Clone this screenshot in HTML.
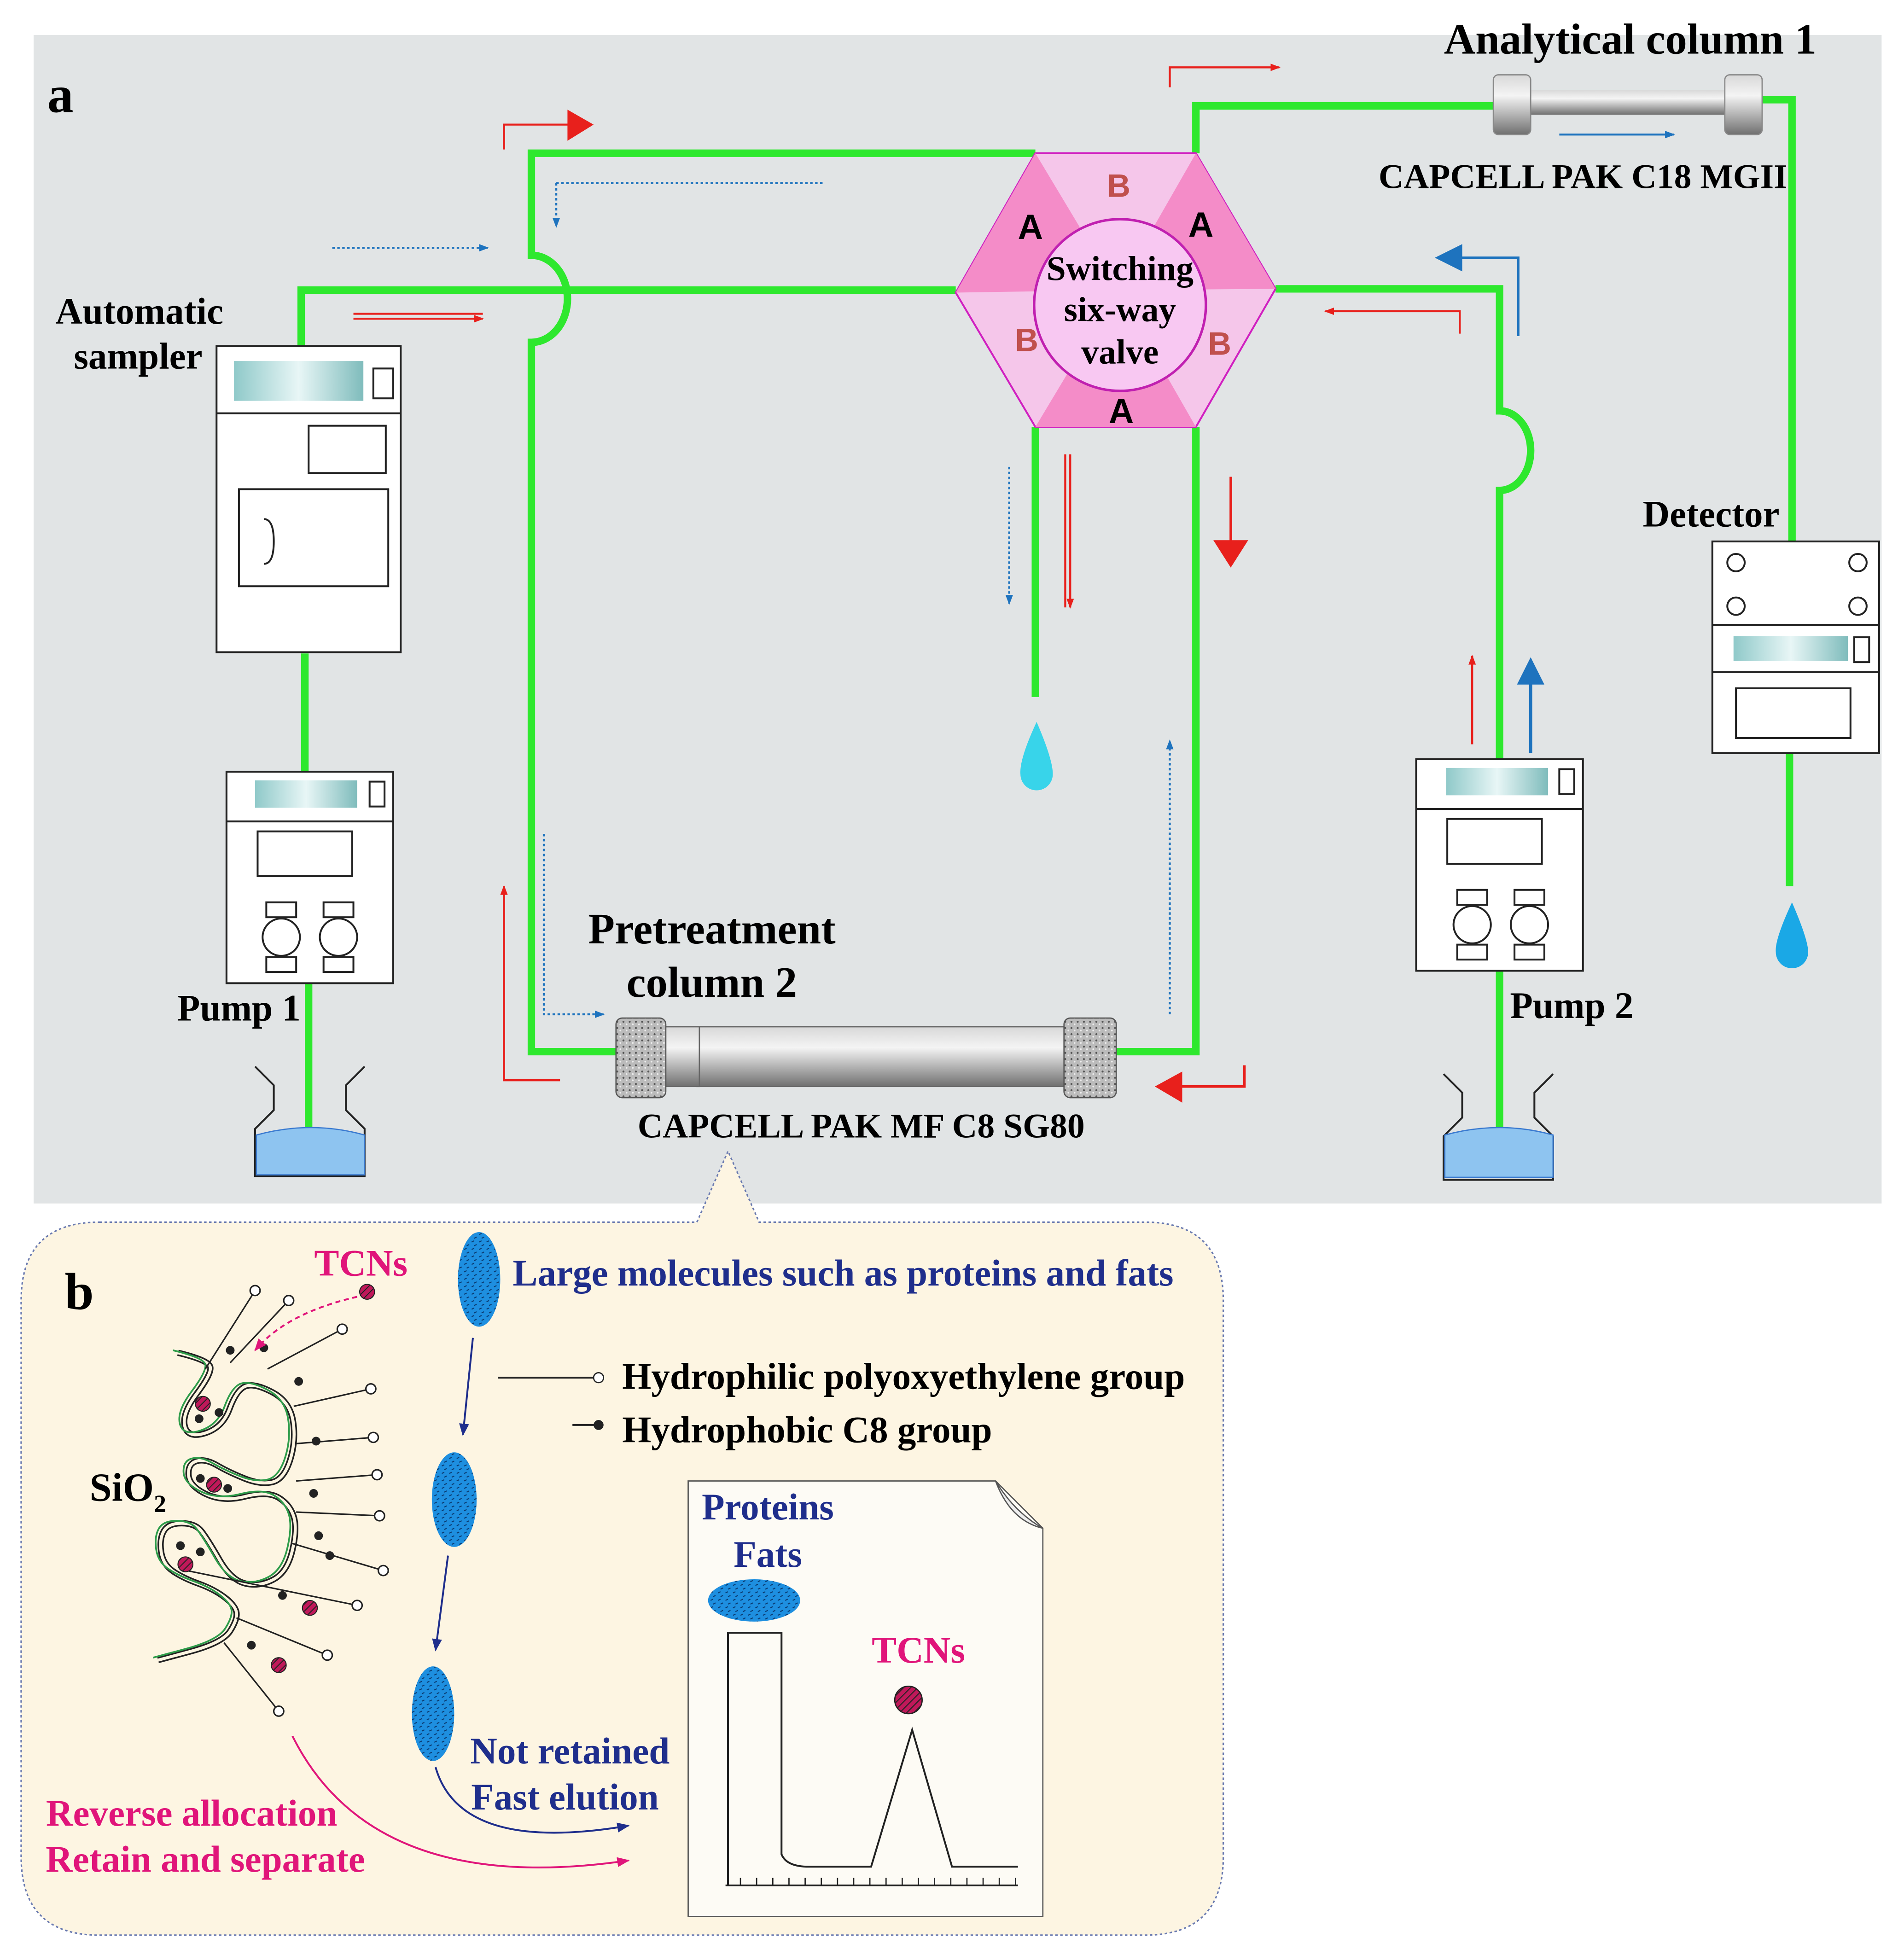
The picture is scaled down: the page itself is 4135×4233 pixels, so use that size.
<!DOCTYPE html>
<html><head><meta charset="utf-8"><style>
html,body{margin:0;padding:0;background:#fff}
svg{display:block}
text{font-family:"Liberation Serif",serif;font-weight:bold}
.s{font-family:"Liberation Sans",sans-serif}
</style></head><body>
<svg width="4135" height="4233" viewBox="0 0 1530 1566" xmlns="http://www.w3.org/2000/svg">
<defs>
<linearGradient id="col" x1="0" y1="0" x2="0" y2="1"><stop offset="0" stop-color="#d8d8d8"/><stop offset=".35" stop-color="#f4f4f4"/><stop offset="1" stop-color="#707070"/></linearGradient>
<linearGradient id="scr" x1="0" y1="0" x2="1" y2="0"><stop offset="0" stop-color="#8fc9c9"/><stop offset=".5" stop-color="#e8f6f6"/><stop offset="1" stop-color="#7fbcbc"/></linearGradient>
<pattern id="hat" width="4" height="4" patternUnits="userSpaceOnUse" patternTransform="rotate(45)"><rect width="4" height="4" fill="#c0185a"/><line x1="0" y1="0" x2="0" y2="4" stroke="#222" stroke-width="1.5"/></pattern>
<pattern id="dots" width="6" height="6" patternUnits="userSpaceOnUse"><rect width="6" height="6" fill="#1e8fe0"/><path d="M1 2l2-1M3 5l2-1" stroke="#0a3a70" stroke-width=".8"/></pattern>
<pattern id="speck" width="5" height="5" patternUnits="userSpaceOnUse"><rect width="5" height="5" fill="#bbb"/><circle cx="1" cy="1" r=".8" fill="#555"/><circle cx="3.5" cy="3" r=".7" fill="#eee"/></pattern>
<marker id="ar" markerWidth="8" markerHeight="8" refX="7" refY="4" orient="auto" markerUnits="userSpaceOnUse"><path d="M0 1L8 4L0 7z" fill="#e8201c"/></marker>
<marker id="ab" markerWidth="8" markerHeight="8" refX="7" refY="4" orient="auto" markerUnits="userSpaceOnUse"><path d="M0 1L8 4L0 7z" fill="#1e73be"/></marker>
<marker id="an" markerWidth="10" markerHeight="10" refX="9" refY="5" orient="auto" markerUnits="userSpaceOnUse"><path d="M0 1L10 5L0 9z" fill="#1f2e8c"/></marker>
<marker id="am" markerWidth="10" markerHeight="10" refX="9" refY="5" orient="auto" markerUnits="userSpaceOnUse"><path d="M0 1L10 5L0 9z" fill="#e0157a"/></marker>
<path id="sq" d="M143,1087 Q168,1093 169,1098.5 Q170,1104 158,1120 Q146,1136 148.5,1146 Q151,1156 165,1151.5 Q179,1147 184.5,1132 Q190,1117 197,1114 Q204,1111 218.5,1118.5 Q233,1126 235.5,1142 Q238,1158 233,1173.5 Q228,1189 218.5,1191 Q209,1193 196.5,1188 Q184,1183 174.5,1177.5 Q165,1172 158,1174 Q151,1176 151.5,1185 Q152,1194 165.5,1200.5 Q179,1207 197,1202.5 Q215,1198 224,1203.5 Q233,1209 236,1218.5 Q239,1228 235,1245.5 Q231,1263 220,1269 Q209,1275 197.5,1272.5 Q186,1270 176.5,1253.5 Q167,1237 162,1230.5 Q157,1224 146,1224 Q135,1224 131.5,1230.5 Q128,1237 129.5,1247 Q131,1257 139,1262.5 Q147,1268 159.5,1272.5 Q172,1277 180.5,1283.5 Q189,1290 190,1295.5 Q191,1301 185,1310.5 Q179,1320 153,1327 L127,1334"/>
</defs>
<rect x="27" y="28" width="1485" height="939" fill="#e1e4e5"/>
<path d="M80 982 H560 L585 925 L610 982 H920 Q983 982 983 1045 V1492 Q983 1555 920 1555 H80 Q17 1555 17 1492 V1045 Q17 982 80 982Z" fill="#fdf5e2" stroke="#6a7ab0" stroke-dasharray="2 2" stroke-width="1.2"/>
<g fill="none" stroke="#2ee82e" stroke-width="6">
<path d="M242 278V233H768"/>
<path d="M832 123H427V205A29 35 0 0 1 427 275V845H500"/>
<path d="M895 845H961V343"/>
<path d="M832 343V560"/>
<path d="M961 123V85H1205M1412 80H1440V435"/>
<path d="M1438 605V712"/>
<path d="M1025 232H1205V330A25 32 0 0 1 1205 394V610"/>
<path d="M1205 780V930"/>
<path d="M245 525V620M248 790V928"/>
</g>
<polygon points="768,235 832,123 961,123 1025,232 961,343 832,343" fill="#f5c6ea" stroke="#d020c0" stroke-width="1.5"/>
<polygon points="768,235 832,123 898,233" fill="#f48cc8"/>
<polygon points="961,123 1025,232 898,233" fill="#f48cc8"/>
<polygon points="961,343 832,343 898,233" fill="#f48cc8"/>
<circle cx="900" cy="245" r="69" fill="#f8c8f2" stroke="#c020b0" stroke-width="2"/>
<text x="900" y="225" font-size="28" text-anchor="middle">Switching</text>
<text x="900" y="258" font-size="28" text-anchor="middle">six-way</text>
<text x="900" y="292" font-size="28" text-anchor="middle">valve</text>
<g font-size="28" text-anchor="middle"><text class="s" x="828" y="192">A</text><text class="s" x="965" y="190">A</text><text class="s" x="901" y="340">A</text>
<text class="s" x="899" y="158" fill="#c0504d" font-size="26">B</text><text class="s" x="825" y="282" fill="#c0504d" font-size="26">B</text><text class="s" x="980" y="285" fill="#c0504d" font-size="26">B</text></g>
<rect x="1215" y="72" width="185" height="20" fill="url(#col)"/>
<rect x="1200" y="60" width="30" height="48" rx="4" fill="url(#col)" stroke="#888"/>
<rect x="1386" y="60" width="30" height="48" rx="4" fill="url(#col)" stroke="#888"/>
<rect x="560" y="825" width="300" height="48" fill="url(#col)" stroke="#666"/>
<rect x="530" y="825" width="32" height="48" fill="url(#col)" stroke="#666"/>
<rect x="495" y="818" width="40" height="64" rx="5" fill="url(#speck)" stroke="#555"/>
<rect x="855" y="818" width="42" height="64" rx="5" fill="url(#speck)" stroke="#555"/>
<g fill="#fff" stroke="#222" stroke-width="1.5">
<rect x="174" y="278" width="148" height="246"/><line x1="174" y1="332" x2="322" y2="332"/>
<rect x="248" y="342" width="62" height="38"/><rect x="192" y="393" width="120" height="78"/>
<rect x="300" y="296" width="16" height="24"/>
<rect x="182" y="620" width="134" height="170"/><line x1="182" y1="660" x2="316" y2="660"/>
<rect x="207" y="668" width="76" height="36"/><rect x="297" y="628" width="12" height="20"/>
<rect x="214" y="725" width="24" height="12"/><rect x="214" y="769" width="24" height="12"/><circle cx="226" cy="753" r="15"/>
<rect x="260" y="725" width="24" height="12"/><rect x="260" y="769" width="24" height="12"/><circle cx="272" cy="753" r="15"/>
<rect x="1138" y="610" width="134" height="170"/><line x1="1138" y1="650" x2="1272" y2="650"/>
<rect x="1163" y="658" width="76" height="36"/><rect x="1253" y="618" width="12" height="20"/>
<rect x="1171" y="715" width="24" height="12"/><rect x="1171" y="759" width="24" height="12"/><circle cx="1183" cy="743" r="15"/>
<rect x="1217" y="715" width="24" height="12"/><rect x="1217" y="759" width="24" height="12"/><circle cx="1229" cy="743" r="15"/>
<rect x="1376" y="435" width="134" height="170"/><line x1="1376" y1="502" x2="1510" y2="502"/><line x1="1376" y1="540" x2="1510" y2="540"/>
<circle cx="1395" cy="452" r="7"/><circle cx="1493" cy="452" r="7"/><circle cx="1395" cy="487" r="7"/><circle cx="1493" cy="487" r="7"/>
<rect x="1395" y="553" width="92" height="40"/><rect x="1490" y="512" width="12" height="20"/>
</g>
<rect x="188" y="290" width="104" height="32" fill="url(#scr)"/>
<rect x="205" y="627" width="82" height="22" fill="url(#scr)"/>
<rect x="1162" y="617" width="82" height="22" fill="url(#scr)"/>
<rect x="1393" y="511" width="92" height="20" fill="url(#scr)"/>
<path d="M212 417q8 0 8 18t-8 18" fill="none" stroke="#222" stroke-width="1.5"/>
<g stroke="#222" stroke-width="1.5" fill="none">
<path d="M205 857l15 15v20l-15 15v38h88v-38l-15-15v-20l15-15"/>
<path d="M1160 863l15 15v20l-15 15v35h88v-35l-15-15v-20l15-15"/>
</g>
<path d="M206 912q44 -12 87 0v32h-87z" fill="#8ec4f0" stroke="#3a7ad0"/>
<path d="M1161 912q44 -12 87 0v34h-87z" fill="#8ec4f0" stroke="#3a7ad0"/>
<path d="M833 580q-14 30 -13 42a13 13 0 0 0 26 0q0 -12 -13 -42z" fill="#38d4ea"/>
<path d="M1440 725q-14 30 -13 40a13 13 0 0 0 26 0q0 -10 -13 -40z" fill="#1aa8e6"/>
<g fill="none" stroke-width="1.6">
<path d="M405 120V100H458" stroke="#e8201c"/><path d="M456 88L477 100L456 113z" fill="#e8201c" stroke="none"/>
<path d="M447 147H662" stroke="#1e73be" stroke-dasharray="2 2"/><path d="M447 147V182" stroke="#1e73be" stroke-dasharray="2 2" marker-end="url(#ab)"/>
<path d="M267 199H392" stroke="#1e73be" stroke-dasharray="2 2" marker-end="url(#ab)"/>
<path d="M284 252H388M284 256H388" stroke="#e8201c" marker-end="url(#ar)"/>
<path d="M940 70V54H1028" stroke="#e8201c" marker-end="url(#ar)"/>
<path d="M1253 108H1345" stroke="#1e73be" marker-end="url(#ab)"/>
<path d="M1220 270V207H1172" stroke="#1e73be" stroke-width="2"/><path d="M1175 196L1153 207L1175 218z" fill="#1e73be" stroke="none"/>
<path d="M1173 268V250H1065" stroke="#e8201c" marker-end="url(#ar)"/>
<path d="M811 375V485" stroke="#1e73be" stroke-dasharray="2 2" marker-end="url(#ab)"/>
<path d="M856 365V488M860 365V488" stroke="#e8201c" marker-end="url(#ar)"/>
<path d="M989 383V436" stroke="#e8201c" stroke-width="2"/><path d="M975 434L1003 434L989 456z" fill="#e8201c" stroke="none"/>
<path d="M1183 598V527" stroke="#e8201c" marker-end="url(#ar)"/>
<path d="M1230 605V548" stroke="#1e73be" stroke-width="2.5"/><path d="M1219 550L1230 528L1241 550z" fill="#1e73be" stroke="none"/>
<path d="M450 868H405V712" stroke="#e8201c" marker-end="url(#ar)"/>
<path d="M437 670V815H485" stroke="#1e73be" stroke-dasharray="2 2" marker-end="url(#ab)"/>
<path d="M940 815V595" stroke="#1e73be" stroke-dasharray="2 2" marker-end="url(#ab)"/>
<path d="M1000 856V873H948" stroke="#e8201c" stroke-width="2"/><path d="M950 861L928 873L950 886z" fill="#e8201c" stroke="none"/>
</g>
<text x="38" y="90" font-size="42">a</text>
<text x="112" y="260" font-size="30" text-anchor="middle">Automatic</text>
<text x="111" y="296" font-size="30" text-anchor="middle">sampler</text>
<text x="192" y="820" font-size="30" text-anchor="middle">Pump 1</text>
<text x="1263" y="818" font-size="30" text-anchor="middle">Pump 2</text>
<text x="1375" y="423" font-size="30" text-anchor="middle">Detector</text>
<text x="1310" y="43" font-size="35" text-anchor="middle">Analytical column 1</text>
<text x="1272" y="151" font-size="28" text-anchor="middle">CAPCELL PAK C18 MGII</text>
<text x="572" y="758" font-size="35" text-anchor="middle">Pretreatment</text>
<text x="572" y="801" font-size="35" text-anchor="middle">column 2</text>
<text x="692" y="914" font-size="28" text-anchor="middle">CAPCELL PAK MF C8 SG80</text>
<text x="52" y="1052" font-size="42">b</text>
<text x="290" y="1025" font-size="30" fill="#e0157a" text-anchor="middle">TCNs</text>
<text x="412" y="1033" font-size="30" fill="#1f2e8c">Large molecules such as proteins and fats</text>
<text x="500" y="1116" font-size="30">Hydrophilic polyoxyethylene group</text>
<text x="500" y="1159" font-size="30">Hydrophobic C8 group</text>
<line x1="400" y1="1107" x2="478" y2="1107" stroke="#222" stroke-width="1.5"/><circle cx="481" cy="1107" r="4" fill="#fff" stroke="#222"/>
<line x1="460" y1="1145" x2="478" y2="1145" stroke="#222" stroke-width="1.5"/><circle cx="481" cy="1145" r="4" fill="#222"/>
<text x="72" y="1206" font-size="32">SiO<tspan font-size="20" dy="9">2</tspan></text>
<use href="#sq" fill="none" stroke="#222" stroke-width="5"/>
<use href="#sq" fill="none" stroke="#fdf5e2" stroke-width="2.4"/>
<use href="#sq" fill="none" stroke="#2e9c4a" stroke-width="1.4" transform="translate(-4,-2)"/>
<g stroke="#222" stroke-width="1.2" fill="#fff">
<line x1="165" y1="1100" x2="205" y2="1037"/><circle cx="205" cy="1037" r="4"/>
<line x1="185" y1="1095" x2="232" y2="1045"/><circle cx="232" cy="1045" r="4"/>
<line x1="215" y1="1100" x2="275" y2="1068"/><circle cx="275" cy="1068" r="4"/>
<line x1="236" y1="1130" x2="298" y2="1116"/><circle cx="298" cy="1116" r="4"/>
<line x1="238" y1="1160" x2="300" y2="1155"/><circle cx="300" cy="1155" r="4"/>
<line x1="238" y1="1190" x2="303" y2="1185"/><circle cx="303" cy="1185" r="4"/>
<line x1="238" y1="1215" x2="305" y2="1218"/><circle cx="305" cy="1218" r="4"/>
<line x1="234" y1="1240" x2="308" y2="1262"/><circle cx="308" cy="1262" r="4"/>
<line x1="150" y1="1262" x2="287" y2="1290"/><circle cx="287" cy="1290" r="4"/>
<line x1="190" y1="1300" x2="263" y2="1330"/><circle cx="263" cy="1330" r="4"/>
<line x1="180" y1="1320" x2="224" y2="1375"/><circle cx="224" cy="1375" r="4"/>
</g>
<g fill="#222"><circle cx="185" cy="1085" r="3.5"/><circle cx="212" cy="1083" r="3.5"/><circle cx="240" cy="1110" r="3.5"/><circle cx="254" cy="1158" r="3.5"/><circle cx="252" cy="1200" r="3.5"/><circle cx="256" cy="1234" r="3.5"/><circle cx="265" cy="1250" r="3.5"/><circle cx="227" cy="1282" r="3.5"/><circle cx="202" cy="1322" r="3.5"/><circle cx="160" cy="1140" r="3.5"/><circle cx="176" cy="1135" r="3.5"/><circle cx="161" cy="1188" r="3.5"/><circle cx="183" cy="1196" r="3.5"/><circle cx="145" cy="1242" r="3.5"/><circle cx="161" cy="1247" r="3.5"/></g>
<g fill="url(#hat)" stroke="#222" stroke-width=".8"><circle cx="295" cy="1038" r="6"/><circle cx="163" cy="1128" r="6"/><circle cx="172" cy="1193" r="6"/><circle cx="149" cy="1257" r="6"/><circle cx="249" cy="1292" r="6"/><circle cx="224" cy="1338" r="6"/></g>
<path d="M287 1042Q230 1055 205 1085" fill="none" stroke="#e0157a" stroke-width="1.5" stroke-dasharray="4 3" marker-end="url(#am)"/>
<ellipse cx="385" cy="1028" rx="17" ry="38" fill="url(#dots)"/>
<ellipse cx="365" cy="1205" rx="18" ry="38" fill="url(#dots)"/>
<ellipse cx="348" cy="1377" rx="17" ry="38" fill="url(#dots)"/>
<g fill="none" stroke-width="1.5">
<path d="M380 1075L372 1153" stroke="#1f2e8c" marker-end="url(#an)"/>
<path d="M360 1250L350 1326" stroke="#1f2e8c" marker-end="url(#an)"/>
<path d="M350 1420Q370 1490 505 1467" stroke="#1f2e8c" marker-end="url(#an)"/>
<path d="M235 1395Q300 1525 505 1495" stroke="#e0157a" marker-end="url(#am)"/>
</g>
<text x="458" y="1417" font-size="30" fill="#1f2e8c" text-anchor="middle">Not retained</text>
<text x="454" y="1454" font-size="30" fill="#1f2e8c" text-anchor="middle">Fast elution</text>
<text x="154" y="1467" font-size="30" fill="#e0157a" text-anchor="middle">Reverse allocation</text>
<text x="165" y="1504" font-size="30" fill="#e0157a" text-anchor="middle">Retain and separate</text>
<path d="M553 1190H800L838 1228V1540H553Z" fill="#fdfbf5" stroke="#555" stroke-width="1"/>
<path d="M800 1190Q815 1215 838 1228Q812 1222 800 1190z" fill="#eee" stroke="#555"/>
<text x="617" y="1221" font-size="30" fill="#1f2e8c" text-anchor="middle">Proteins</text>
<text x="617" y="1259" font-size="30" fill="#1f2e8c" text-anchor="middle">Fats</text>
<ellipse cx="606" cy="1286" rx="37" ry="17" fill="url(#dots)"/>
<text x="738" y="1336" font-size="30" fill="#e0157a" text-anchor="middle">TCNs</text>
<circle cx="730" cy="1366" r="11" fill="url(#hat)" stroke="#222"/>
<path d="M585 1515V1312H628V1490Q632 1500 650 1500H700L733 1390L765 1500H818" fill="none" stroke="#222" stroke-width="1.5"/>
<line x1="583" y1="1515" x2="818" y2="1515" stroke="#222" stroke-width="1.3"/>
<path d="M595 1515v-6M608 1515v-6M621 1515v-6M634 1515v-6M647 1515v-6M660 1515v-6M673 1515v-6M686 1515v-6M699 1515v-6M712 1515v-6M725 1515v-6M738 1515v-6M751 1515v-6M764 1515v-6M777 1515v-6M790 1515v-6M803 1515v-6M816 1515v-6" stroke="#222"/>
</svg>
</body></html>
